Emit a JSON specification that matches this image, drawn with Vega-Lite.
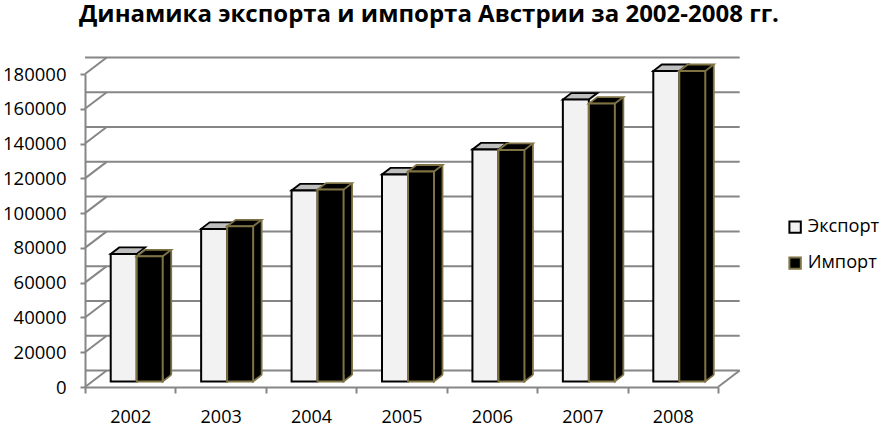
{"$schema":"https://vega.github.io/schema/vega-lite/v6.json","width":633,"height":313,"autosize":{"type":"none"},"padding":{"left":85,"top":74,"right":163,"bottom":40},"background":"white","config":{"view":{"stroke":null},"font":"Open Sans","axisY":{"labelOverlap":false,"labelBound":false,"grid":false,"format":"d","domainColor":"#868686","domainWidth":2,"tickColor":"#868686","tickWidth":2,"tickSize":5,"labelFont":"Open Sans","labelFontSize":18.5,"labelColor":"#000000","labelPadding":14}},
"title":{"text":"Динамика экспорта и импорта Австрии за 2002-2008 гг.","font":"Open Sans","fontSize":24,"fontWeight":"bold","color":"#000000","anchor":"start","frame":"group","dx":-6,"offset":27},
"datasets":{"bars":[
{"year":"2002","series":"Экспорт","value":73300},{"year":"2002","series":"Импорт","value":71950},
{"year":"2003","series":"Экспорт","value":87700},{"year":"2003","series":"Импорт","value":89200},
{"year":"2004","series":"Экспорт","value":109800},{"year":"2004","series":"Импорт","value":110300},
{"year":"2005","series":"Экспорт","value":119000},{"year":"2005","series":"Импорт","value":120700},
{"year":"2006","series":"Экспорт","value":133400},{"year":"2006","series":"Импорт","value":133100},
{"year":"2007","series":"Экспорт","value":162100},{"year":"2007","series":"Импорт","value":159800},
{"year":"2008","series":"Экспорт","value":178500},{"year":"2008","series":"Импорт","value":178500}],
"grid":[{"v":0},{"v":20000},{"v":40000},{"v":60000},{"v":80000},{"v":100000},{"v":120000},{"v":140000},{"v":160000},{"v":180000}],
"floor":[{"v":0}]},
"encoding":{"x":{"field":"year","type":"ordinal","scale":{"type":"band","paddingInner":0,"paddingOuter":0,"domain":["2002","2003","2004","2005","2006","2007","2008"]},"title":null,"axis":{"labelAngle":0,"tickBand":"extent","domainColor":"#868686","domainWidth":2,"tickColor":"#868686","tickWidth":2,"tickSize":6,"labelFont":"Open Sans","labelFontSize":18,"labelColor":"#000000","labelPadding":15,"grid":false}}},
"layer":[
{"data":{"name":"grid"},"mark":{"type":"rule","stroke":"#868686","strokeWidth":2,"xOffset":21.7,"yOffset":-16.5},"encoding":{"x":null,"y":{"field":"v","type":"quantitative","scale":{"domain":[0,180000],"nice":false},"title":null,"axis":{"values":[0,20000,40000,60000,80000,100000,120000,140000,160000,180000]}}}},
{"data":{"name":"grid"},"mark":{"type":"point","shape":"M0,0L21.7,-16.5","size":4,"filled":false,"stroke":"#868686","strokeWidth":2,"opacity":1},"encoding":{"x":{"datum":"2002","bandPosition":0},"y":{"field":"v","type":"quantitative","title":null,"axis":{"values":[0,20000,40000,60000,80000,100000,120000,140000,160000,180000]}}}},
{"data":{"name":"floor"},"mark":{"type":"point","shape":"M0,0L21.7,-16.5","size":4,"filled":false,"stroke":"#868686","strokeWidth":2,"opacity":1},"encoding":{"x":{"datum":"2008","bandPosition":1},"y":{"field":"v","type":"quantitative","title":null,"axis":{"values":[0,20000,40000,60000,80000,100000,120000,140000,160000,180000]}}}},

{"data":{"name":"bars"},"transform":[{"filter":"datum.series==='Экспорт'"}],"mark":{"type":"point","shape":"M-26,0L0,0L8.5,-6.5L-17.5,-6.5Z","size":4,"filled":true,"fill":"#bfbfbf","stroke":"#000000","strokeWidth":1.8,"opacity":1,"xOffset":6.5,"yOffset":-5.6},"encoding":{"y":{"field":"value","type":"quantitative","title":null,"axis":{"values":[0,20000,40000,60000,80000,100000,120000,140000,160000,180000]}}}},
{"data":{"name":"bars"},"transform":[{"filter":"datum.series==='Экспорт'"}],"mark":{"type":"bar","size":26,"strokeWidth":2,"xOffset":-6.5,"yOffset":-5.6,"y2Offset":-5.6},"encoding":{"y":{"field":"value","type":"quantitative","title":null,"axis":{"values":[0,20000,40000,60000,80000,100000,120000,140000,160000,180000]}},"y2":{"datum":0},"fill":{"field":"series","type":"nominal","scale":{"domain":["Экспорт","Импорт"],"range":["#f2f2f2","#000000"]},"legend":{"title":null,"orient":"none","legendX":701,"legendY":144,"symbolType":"square","symbolSize":130,"symbolStrokeWidth":2,"rowPadding":16,"labelFont":"Open Sans","labelFontSize":18.2,"labelColor":"#000000","labelOffset":3.5,"labelLimit":120}},"stroke":{"field":"series","type":"nominal","scale":{"domain":["Экспорт","Импорт"],"range":["#000000","#7f7345"]}}}},

{"data":{"name":"bars"},"transform":[{"filter":"datum.series==='Импорт'"}],"mark":{"type":"bar","size":8.5,"fill":"#000000","strokeWidth":0,"xOffset":36.75,"yOffset":-12.1,"y2Offset":-12.1},"encoding":{"y":{"field":"value","type":"quantitative","title":null,"axis":{"values":[0,20000,40000,60000,80000,100000,120000,140000,160000,180000]}},"y2":{"datum":0}}},
{"data":{"name":"bars"},"transform":[{"filter":"datum.series==='Импорт'"}],"mark":{"type":"rule","stroke":"#7f7345","strokeWidth":1.8,"xOffset":41,"yOffset":-12.1,"y2Offset":-12.1},"encoding":{"y":{"field":"value","type":"quantitative","title":null,"axis":{"values":[0,20000,40000,60000,80000,100000,120000,140000,160000,180000]}},"y2":{"datum":0}}},
{"data":{"name":"bars"},"transform":[{"filter":"datum.series==='Импорт'"}],"mark":{"type":"point","shape":"M0,-6.5L0,0L8.5,-6.5","size":4,"filled":true,"fill":"#000000","stroke":"#7f7345","strokeWidth":1.8,"opacity":1,"xOffset":32.5,"yOffset":-5.6},"encoding":{"y":{"datum":0,"title":null,"axis":{"values":[0,20000,40000,60000,80000,100000,120000,140000,160000,180000]}}}},
{"data":{"name":"bars"},"transform":[{"filter":"datum.series==='Импорт'"}],"mark":{"type":"point","shape":"M-26,0L0,0L8.5,-6.5L-17.5,-6.5Z","size":4,"filled":true,"fill":"#000000","stroke":"#7f7345","strokeWidth":1.8,"opacity":1,"xOffset":32.5,"yOffset":-5.6},"encoding":{"y":{"field":"value","type":"quantitative","title":null,"axis":{"values":[0,20000,40000,60000,80000,100000,120000,140000,160000,180000]}}}},
{"data":{"name":"bars"},"transform":[{"filter":"datum.series==='Импорт'"}],"mark":{"type":"bar","size":26,"strokeWidth":2,"xOffset":19.5,"yOffset":-5.6,"y2Offset":-5.6},"encoding":{"y":{"field":"value","type":"quantitative","title":null,"axis":{"values":[0,20000,40000,60000,80000,100000,120000,140000,160000,180000]}},"y2":{"datum":0},"fill":{"field":"series","type":"nominal"},"stroke":{"field":"series","type":"nominal"}}}
]}
